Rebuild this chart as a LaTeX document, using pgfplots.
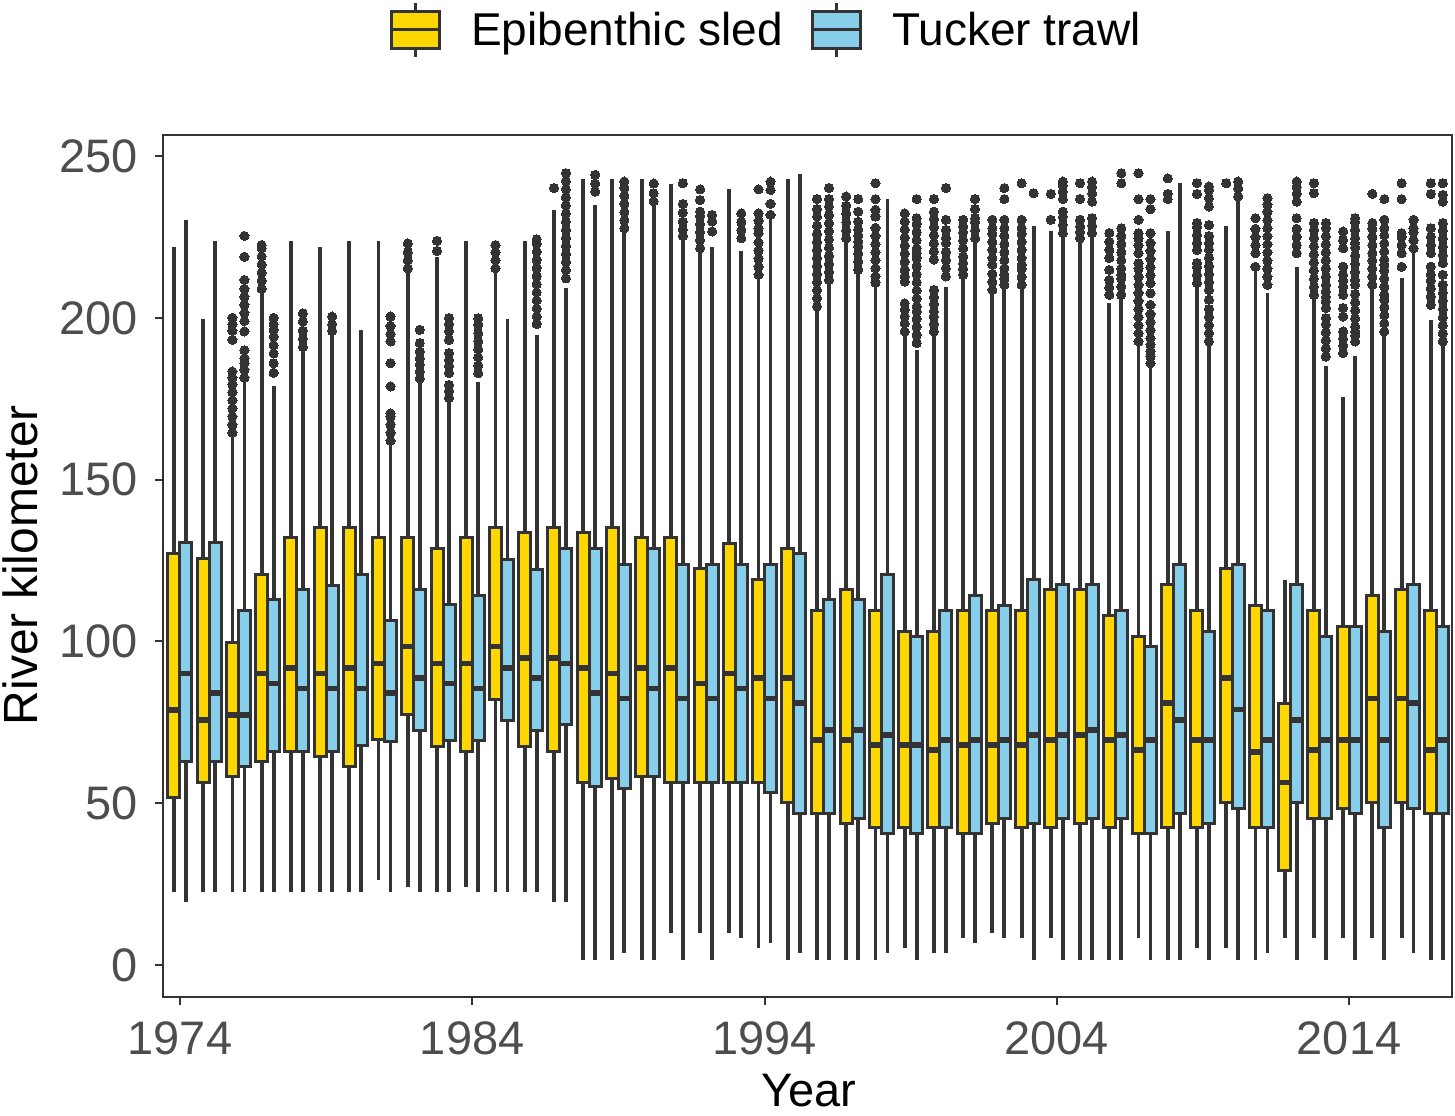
\documentclass[border=0pt]{standalone}
\usepackage{pgfplots}
\pgfplotsset{compat=1.18}
\usepgfplotslibrary{statistics}
\usepackage{fontspec}
\setmainfont{Liberation Sans}

\definecolor{sledcol}{HTML}{FFD700}
\definecolor{tuckcol}{HTML}{87CEEB}
\definecolor{dgrey}{HTML}{333333}
\definecolor{tickgrey}{HTML}{4D4D4D}

\pgfplotsset{
  bxbase/.style={
    forget plot, draw=dgrey, line width=1.5pt,
    mark=*, mark size=2.3pt, mark options={draw=dgrey, fill=dgrey, line width=0pt},
    boxplot/draw direction=y,
    boxplot/box extend=0.41,
    boxplot/whisker extend=0,
    boxplot/every median/.style={line width=2.8pt},
    boxplot/every whisker/.style={line width=1.9pt},
  },
}
% x axis runs in years since 1974
% year, lower whisker, lower quartile, median, upper quartile, upper whisker, outliers
\newcommand\sled[7]{\addplot[bxbase, fill=sledcol, boxplot prepared={draw position=#1-1974.205,
  lower whisker=#2, lower quartile=#3, median=#4, upper quartile=#5, upper whisker=#6}] coordinates {#7};}
\newcommand\tuck[7]{\addplot[bxbase, fill=tuckcol, boxplot prepared={draw position=#1-1973.795,
  lower whisker=#2, lower quartile=#3, median=#4, upper quartile=#5, upper whisker=#6}] coordinates {#7};}

\begin{document}
\begin{tikzpicture}
\begin{axis}[
  scale only axis, width=644.5pt, height=431pt,
  xmin=-0.58, xmax=43.52, ymin=-9.9, ymax=256.5,
  xtick={0,10,20,30,40}, xticklabels={1974,1984,1994,2004,2014},
  ytick={0,50,...,250},
  /pgf/number format/assume math mode=true,
  axis line style={dgrey, line width=1pt},
  tick style={dgrey, line width=1pt}, major tick length=4pt, tick align=outside,
  tick pos=left,
  ticklabel style={font=\fontsize{23.5}{28}\selectfont, text=tickgrey},
  xticklabel style={yshift=-5pt},
  yticklabel style={xshift=-5pt},
  xlabel={Year}, ylabel={River kilometer},
  every axis x label/.style={at={(axis description cs:0.501,-0.109)}, anchor=center,
    font=\fontsize{23.5}{28}\selectfont},
  every axis y label/.style={at={(axis description cs:-0.111,0.501)}, rotate=90, anchor=center,
    font=\fontsize{24}{28}\selectfont},
  legend style={at={(axis description cs:0.176,1.122)}, anchor=west, draw=none, fill=none,
    inner sep=0pt, legend columns=2, font=\fontsize{23}{28}\selectfont,
    nodes={inner sep=0pt},
    /tikz/every odd column/.append style={column sep=15pt},
    /tikz/every even column/.append style={column sep=14pt}},
]
\addlegendimage{legend image code/.code={
  \draw[dgrey, line width=1.5pt] (12pt,-13.5pt) -- (12pt,13.5pt);
  \draw[dgrey, line width=1.5pt, fill=sledcol] (0pt,-9.25pt) rectangle (24pt,9.25pt);
  \draw[dgrey, line width=1.5pt] (0pt,0pt) -- (24pt,0pt);}}
\addlegendentry{Epibenthic sled}
\addlegendimage{legend image code/.code={
  \draw[dgrey, line width=1.5pt] (12pt,-13.5pt) -- (12pt,13.5pt);
  \draw[dgrey, line width=1.5pt, fill=tuckcol] (0pt,-9.25pt) rectangle (24pt,9.25pt);
  \draw[dgrey, line width=1.5pt] (0pt,0pt) -- (24pt,0pt);}}
\addlegendentry{Tucker trawl}

\sled{1974}{22.7}{51.7}{78.8}{127.2}{222.0}{}
\tuck{1974}{19.6}{62.8}{90.1}{130.5}{230.1}{}
\sled{1975}{22.7}{56.4}{75.7}{125.5}{199.6}{}
\tuck{1975}{22.7}{62.8}{84.0}{130.5}{223.6}{}
\sled{1976}{22.7}{58.2}{77.3}{99.7}{162.8}{(0,164.5)(0,167)(0,169.5)(0,172)(0,174.5)(0,177)(0,179.5)(0,181.5)(0,183.4)(0,193.2)(0,196)(0,198)(0,200)}
\tuck{1976}{22.7}{61.3}{77.3}{109.7}{180.3}{(0,181.5)(0,184)(0,186)(0,187.5)(0,190)(0,195.8)(0,199)(0,201.5)(0,204)(0,206.5)(0,209)(0,211.7)(0,218.9)(0,225.3)}
\sled{1977}{22.7}{62.8}{90.1}{120.8}{208.1}{(0,209)(0,211.5)(0,214)(0,216.5)(0,219)(0,221.5)(0,222.5)}
\tuck{1977}{22.7}{65.9}{87.0}{112.8}{178.8}{(0,183)(0,186)(0,189)(0,191.5)(0,194.2)(0,196.3)(0,198)(0,200)}
\sled{1978}{22.7}{65.9}{91.7}{132.2}{223.6}{}
\tuck{1978}{22.7}{65.9}{85.5}{115.9}{190.1}{(0,191)(0,193.5)(0,196)(0,198.9)(0,201.4)}
\sled{1979}{22.7}{64.4}{90.1}{135.3}{222.0}{}
\tuck{1979}{22.7}{65.9}{85.5}{117.4}{194.7}{(0,196)(0,198)(0,200.4)}
\sled{1980}{22.7}{61.3}{91.7}{135.3}{223.6}{}
\tuck{1980}{22.7}{67.7}{85.5}{120.8}{196.3}{}
\sled{1981}{26.3}{69.7}{93.2}{132.2}{223.6}{}
\tuck{1981}{22.7}{69.0}{84.0}{106.4}{161.3}{(0,162)(0,164.5)(0,167)(0,169.5)(0,170.5)(0,178.8)(0,186)(0,192.7)(0,195)(0,197.5)(0,200.4)}
\sled{1982}{24.2}{77.3}{98.4}{132.2}{214.3}{(0,215.3)(0,217.8)(0,220.3)(0,223)}
\tuck{1982}{22.7}{72.6}{88.6}{115.9}{180.8}{(0,181.3)(0,183.5)(0,185.5)(0,187.5)(0,189.6)(0,192.2)(0,196.3)}
\sled{1983}{22.7}{67.5}{93.2}{128.8}{218.9}{(0,220.7)(0,223.8)}
\tuck{1983}{22.7}{69.5}{87.0}{111.3}{174.1}{(0,175.2)(0,177.3)(0,179.3)(0,182.9)(0,185)(0,187)(0,189.1)(0,193.2)(0,195.8)(0,198)(0,199.9)}
\sled{1984}{24.2}{65.9}{93.2}{132.2}{223.6}{}
\tuck{1984}{22.7}{69.5}{85.5}{114.3}{180.3}{(0,182.9)(0,185.3)(0,187.8)(0,190.3)(0,192.8)(0,195.3)(0,197.8)(0,199.9)}
\sled{1985}{22.7}{81.9}{98.4}{135.3}{214.3}{(0,215.3)(0,217.8)(0,220.3)(0,222.5)}
\tuck{1985}{22.7}{75.7}{91.7}{125.4}{199.6}{}
\sled{1986}{22.7}{67.5}{94.8}{133.7}{223.6}{}
\tuck{1986}{22.7}{72.6}{88.6}{122.3}{194.7}{(0,198.1)(0,200.4)(0,202.9)(0,205.4)(0,207.9)(0,210.4)(0,212.9)(0,215.4)(0,217.9)(0,220.4)(0,222.9)(0,224.3)}
\sled{1987}{19.6}{65.9}{94.8}{135.3}{233.4}{(0,240.1)}
\tuck{1987}{19.6}{74.2}{93.2}{128.8}{209.2}{(0,212.2)(0,214.7)(0,217.2)(0,219.7)(0,222.2)(0,224.7)(0,227.2)(0,229.7)(0,232.2)(0,234.7)(0,237.2)(0,239.7)(0,242.2)(0,244.7)}
\sled{1988}{1.6}{56.4}{91.7}{133.7}{242.8}{}
\tuck{1988}{1.6}{55.1}{84.0}{128.8}{234.9}{(0,239)(0,241.5)(0,244.2)}
\sled{1989}{1.6}{57.7}{90.1}{135.3}{242.8}{}
\tuck{1989}{3.6}{54.6}{82.4}{123.9}{227.2}{(0,227.7)(0,230.2)(0,232.7)(0,235.2)(0,237.7)(0,240.2)(0,242.1)}
\sled{1990}{1.6}{58.2}{91.7}{132.2}{242.8}{}
\tuck{1990}{1.6}{58.2}{85.5}{128.8}{235.4}{(0,236)(0,238.5)(0,241.5)}
\sled{1991}{9.8}{56.4}{91.7}{132.2}{241.4}{}
\tuck{1991}{1.6}{56.4}{82.4}{123.9}{223.9}{(0,225.3)(0,227.2)(0,229.7)(0,232.5)(0,235.2)(0,241.6)}
\sled{1992}{9.8}{56.4}{87.0}{122.4}{221.0}{(0,221.5)(0,224)(0,226.5)(0,229)(0,231.5)(0,232.8)(0,236.4)(0,239.7)}
\tuck{1992}{1.6}{56.4}{82.4}{123.9}{222.0}{(0,226.7)(0,229.8)(0,231.8)}
\sled{1993}{9.8}{56.4}{90.1}{130.3}{239.7}{}
\tuck{1993}{8.3}{56.4}{85.5}{123.9}{220.5}{(0,224.6)(0,227.1)(0,229.6)(0,232.3)}
\sled{1994}{5.2}{56.4}{88.6}{119.2}{212.8}{(0,213.3)(0,215.8)(0,218.3)(0,220.8)(0,223.3)(0,226.2)(0,227.7)(0,230)(0,232.3)(0,239.7)}
\tuck{1994}{6.7}{53.3}{82.4}{123.9}{230.3}{(0,231.8)(0,235.2)(0,239.5)(0,242.1)}
\sled{1995}{1.6}{50.2}{88.6}{128.8}{242.8}{}
\tuck{1995}{3.6}{46.9}{80.9}{127.2}{244.5}{}
\sled{1996}{1.6}{46.9}{69.5}{109.5}{203.0}{(0,203.5)(0,206)(0,208.5)(0,211)(0,213.5)(0,216)(0,218.5)(0,221)(0,223.5)(0,226)(0,228.5)(0,231.3)(0,233.6)(0,236.7)}
\tuck{1996}{1.6}{46.9}{72.6}{112.8}{211.2}{(0,211.7)(0,214.2)(0,216.7)(0,219.2)(0,221.7)(0,224.2)(0,226.7)(0,229.2)(0,231.7)(0,234.4)(0,236.7)(0,240.1)}
\sled{1997}{1.6}{43.8}{69.5}{115.9}{224.1}{(0,224.6)(0,227.1)(0,229.6)(0,232.1)(0,234.6)(0,237.5)}
\tuck{1997}{1.6}{45.3}{72.6}{112.8}{214.3}{(0,214.8)(0,217.3)(0,219.8)(0,222)(0,223.6)(0,225.3)(0,227.2)(0,229.7)(0,232.8)(0,236.7)}
\sled{1998}{1.6}{42.4}{68.0}{109.5}{209.7}{(0,210.9)(0,212.8)(0,215.3)(0,217.8)(0,220.3)(0,222.8)(0,225.3)(0,227.8)(0,231.3)(0,233.4)(0,236.7)(0,241.6)}
\tuck{1998}{3.6}{40.7}{71.1}{120.8}{236.7}{}
\sled{1999}{5.2}{42.4}{68.0}{103.0}{194.7}{(0,195.8)(0,198.3)(0,200.5)(0,202.5)(0,204.5)(0,211.2)(0,212.8)(0,214.8)(0,217.3)(0,219.8)(0,222.3)(0,224.8)(0,227.3)(0,229.8)(0,232.3)}
\tuck{1999}{1.6}{40.7}{68.0}{101.5}{190.1}{(0,192.2)(0,194.7)(0,197.2)(0,199.7)(0,202)(0,203.5)(0,206)(0,208.5)(0,211)(0,213.5)(0,216)(0,218.5)(0,220)(0,221.5)(0,224)(0,226.5)(0,229)(0,230.8)(0,236.7)}
\sled{2000}{3.6}{42.4}{66.4}{103.0}{195.0}{(0,195.8)(0,198.1)(0,200.4)(0,202)(0,204.2)(0,206.4)(0,208.6)(0,218)(0,220.5)(0,223)(0,225.5)(0,228)(0,230.5)(0,232.8)(0,236.7)}
\tuck{2000}{3.6}{42.4}{69.5}{109.5}{209.5}{(0,212.8)(0,215.3)(0,217.8)(0,220.3)(0,223.1)(0,224.6)(0,227.2)(0,230.3)(0,240.1)}
\sled{2001}{8.3}{40.7}{68.0}{109.5}{212.8}{(0,213.3)(0,215.1)(0,216.9)(0,219)(0,221.5)(0,224)(0,226.5)(0,228.2)(0,230.3)}
\tuck{2001}{6.7}{40.7}{69.5}{114.3}{224.1}{(0,224.6)(0,227.1)(0,229.6)(0,230.8)(0,233.6)(0,236.7)}
\sled{2002}{9.8}{43.8}{68.0}{109.5}{207.6}{(0,208.6)(0,211.1)(0,213.6)(0,216.4)(0,218.5)(0,221)(0,223.5)(0,226)(0,227.7)(0,230.3)}
\tuck{2002}{8.3}{45.3}{69.5}{111.0}{209.2}{(0,210.2)(0,212)(0,213.3)(0,215.3)(0,217.8)(0,220.3)(0,222.8)(0,225.3)(0,227.7)(0,230.3)(0,236.7)(0,240.1)}
\sled{2003}{8.3}{42.4}{68.0}{109.5}{209.2}{(0,210.2)(0,212.7)(0,215.2)(0,216.4)(0,218.5)(0,221)(0,223.5)(0,226)(0,227.7)(0,230.3)(0,241.6)}
\tuck{2003}{1.6}{43.8}{71.1}{119.2}{228.4}{(0,238.5)}
\sled{2004}{8.3}{42.4}{69.5}{115.9}{226.9}{(0,230.3)(0,238.3)}
\tuck{2004}{1.6}{45.3}{71.1}{117.6}{225.6}{(0,226.2)(0,228.7)(0,231.2)(0,232.8)(0,236.7)(0,239)(0,241)(0,242.1)}
\sled{2005}{1.6}{43.8}{71.1}{115.9}{224.1}{(0,224.6)(0,226.5)(0,228.2)(0,230.3)(0,236.7)(0,241.6)}
\tuck{2005}{1.6}{45.3}{72.6}{117.6}{225.6}{(0,226.2)(0,228.5)(0,230.8)(0,235.9)(0,238.4)(0,240.4)(0,242.1)}
\sled{2006}{1.6}{42.4}{69.5}{108.1}{204.5}{(0,207.1)(0,209.4)(0,211.7)(0,214.8)(0,218.5)(0,221)(0,223.5)(0,226.2)}
\tuck{2006}{1.6}{45.3}{71.1}{109.5}{206.1}{(0,207.1)(0,209.6)(0,212.1)(0,213.3)(0,215.3)(0,217.8)(0,220.3)(0,222.8)(0,225.3)(0,227.7)(0,241.6)(0,244.7)}
\sled{2007}{8.3}{40.7}{66.4}{101.5}{191.7}{(0,192.7)(0,195.2)(0,197.7)(0,200.2)(0,202.7)(0,205.2)(0,207.7)(0,210.2)(0,212.7)(0,215.2)(0,216.9)(0,220)(0,222.5)(0,224.5)(0,226.2)(0,230.3)(0,236.7)(0,244.7)}
\tuck{2007}{1.6}{40.7}{69.5}{98.4}{185.2}{(0,186)(0,188)(0,189.6)(0,191.7)(0,193.7)(0,196.2)(0,198.7)(0,201.2)(0,204)(0,207.6)(0,210.7)(0,213.2)(0,215.7)(0,218.2)(0,220.7)(0,223.2)(0,226.2)(0,233.6)(0,236.7)}
\sled{2008}{1.6}{42.4}{80.9}{117.6}{226.9}{(0,236.7)(0,238.3)(0,243.1)}
\tuck{2008}{1.6}{46.9}{75.7}{123.9}{241.6}{}
\sled{2009}{5.2}{42.4}{69.5}{109.5}{209.5}{(0,210.7)(0,213.2)(0,215.7)(0,216.9)(0,221)(0,223.1)(0,225.6)(0,228.1)(0,229.3)(0,238.3)(0,241.6)}
\tuck{2009}{1.6}{43.8}{69.5}{103.0}{191.7}{(0,192.7)(0,195.2)(0,197.7)(0,200.2)(0,202.7)(0,205.6)(0,208.6)(0,211.1)(0,213.6)(0,216.1)(0,218.6)(0,221.1)(0,223.1)(0,225.3)(0,228.7)(0,234.4)(0,236.9)(0,239.4)(0,240.6)}
\sled{2010}{5.2}{50.2}{88.6}{122.4}{228.4}{(0,241.6)}
\tuck{2010}{1.6}{48.4}{79.0}{123.9}{236.7}{(0,237.5)(0,240)(0,242.1)}
\sled{2011}{1.6}{42.4}{65.9}{111.0}{214.3}{(0,215.8)(0,220)(0,222.5)(0,225)(0,227.5)(0,230.8)}
\tuck{2011}{3.6}{42.4}{69.5}{109.5}{207.6}{(0,210.2)(0,212.7)(0,215.2)(0,217.7)(0,220.2)(0,222.7)(0,225.2)(0,227.7)(0,230.2)(0,232.8)(0,235)(0,237)}
\sled{2012}{8.3}{29.2}{56.4}{80.7}{119.0}{}
\tuck{2012}{1.6}{50.2}{75.7}{117.6}{215.6}{(0,220)(0,222.5)(0,225)(0,227.5)(0,230.8)(0,235.9)(0,238.4)(0,240.4)(0,242.1)}
\sled{2013}{8.3}{45.3}{66.4}{109.5}{206.1}{(0,207.1)(0,209.6)(0,212.1)(0,214.6)(0,217.1)(0,219.6)(0,222.1)(0,224.6)(0,227.1)(0,229.3)(0,238.5)(0,241.6)}
\tuck{2013}{1.6}{45.3}{69.5}{101.5}{185.2}{(0,188)(0,190.5)(0,193)(0,195.5)(0,198)(0,199.9)(0,203)(0,205)(0,206.5)(0,208.1)(0,210.2)(0,212.7)(0,215.2)(0,217.7)(0,220.2)(0,222.7)(0,225.2)(0,227.7)(0,229.3)}
\sled{2014}{8.3}{48.4}{69.5}{104.6}{175.5}{(0,189.1)(0,191.5)(0,193.5)(0,195.8)(0,200.4)(0,203)(0,207.1)(0,209.6)(0,211.5)(0,213.3)(0,215.8)(0,221.5)(0,224)(0,226.7)}
\tuck{2014}{1.6}{46.9}{69.5}{104.6}{188.3}{(0,192.7)(0,194.5)(0,195.8)(0,197.3)(0,199.8)(0,202.3)(0,204.8)(0,207.3)(0,210.2)(0,211.7)(0,214.2)(0,216.7)(0,219.2)(0,221.7)(0,223.1)(0,224.6)(0,227.1)(0,229.6)(0,230.8)}
\sled{2015}{8.3}{50.2}{82.4}{114.3}{209.2}{(0,210.2)(0,212.7)(0,215.2)(0,217.7)(0,220)(0,222.5)(0,225)(0,227.5)(0,229.3)(0,238.3)}
\tuck{2015}{1.6}{42.4}{69.5}{103.0}{194.7}{(0,195.8)(0,198.3)(0,200.8)(0,203.3)(0,205.6)(0,207.1)(0,209.6)(0,212.1)(0,214.6)(0,216.4)(0,218)(0,220.5)(0,223)(0,225.5)(0,227.7)(0,230.3)(0,236.7)}
\sled{2016}{8.3}{50.2}{82.4}{115.9}{212.3}{(0,215.8)(0,220)(0,222.5)(0,225)(0,226.2)(0,236.7)(0,241.6)}
\tuck{2016}{3.6}{48.4}{80.9}{117.6}{220.5}{(0,221.5)(0,224)(0,226.5)(0,227.7)(0,230.3)}
\sled{2017}{1.6}{46.9}{66.4}{109.5}{199.4}{(0,204)(0,206.5)(0,209)(0,211.5)(0,213.3)(0,215.8)(0,220)(0,222.5)(0,225)(0,227.7)(0,238.3)(0,241.6)}
\tuck{2017}{1.6}{46.9}{69.5}{104.6}{191.7}{(0,192.7)(0,195.2)(0,197.7)(0,200.2)(0,202.7)(0,205.2)(0,207.7)(0,210.2)(0,213.3)(0,216.9)(0,219.4)(0,221.9)(0,224.4)(0,226.9)(0,229.3)(0,235.9)(0,238)(0,241.6)}
\end{axis}
\pgfresetboundingbox
\path (-81.5pt,-59pt) rectangle (646pt,498.5pt);
\end{tikzpicture}
\end{document}
